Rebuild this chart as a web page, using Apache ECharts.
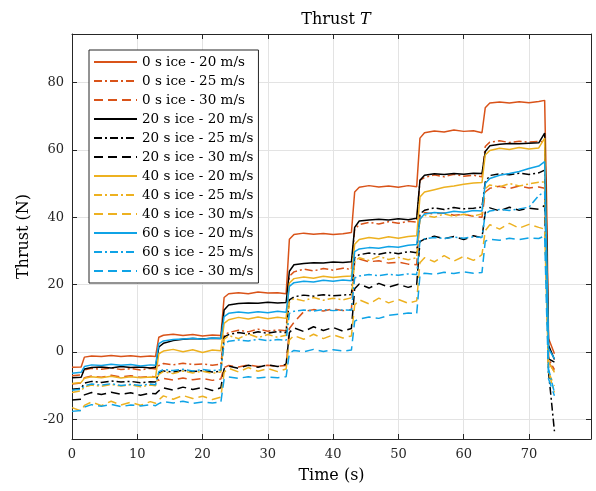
<!DOCTYPE html>
<html><head><meta charset="utf-8">
<script src="https://cdn.jsdelivr.net/npm/echarts@6/dist/echarts.min.js"></script>
<style>html,body{margin:0;padding:0;background:#fff}#c{width:596px;height:491px}</style>
</head><body><div id="c"></div>
<script>
const time = [0, 1.4, 1.9, 3, 4.5, 6, 7.5, 9, 10.5, 12, 12.8,
  13.3, 14, 15.5, 17, 18.5, 20, 21.5, 22.8,
  23.3, 24, 25.5, 27, 28.5, 30, 31.5, 32.8,
  33.3, 34, 35.5, 37, 38.5, 40, 41.5, 42.8,
  43.3, 44, 45.5, 47, 48.5, 50, 51.5, 52.8,
  53.3, 54, 55.5, 57, 58.5, 60, 61.5, 62.8,
  63.3, 64, 65.5, 67, 68.5, 70, 71.5,
  72.4, 72.7, 73.0, 73.9];

const seriesNames = ['0 s ice - 20 m/s','0 s ice - 25 m/s','0 s ice - 30 m/s',
  '20 s ice - 20 m/s','20 s ice - 25 m/s','20 s ice - 30 m/s',
  '40 s ice - 20 m/s','40 s ice - 25 m/s','40 s ice - 30 m/s',
  '60 s ice - 20 m/s','60 s ice - 25 m/s','60 s ice - 30 m/s'];

const ice0_20 = [-4.5, -4.4,
 -1.5, -1.2, -1.3, -1.0, -1.3, -1.1, -1.4, -1.2, -1.3,
 4.4, 5.0, 5.3, 4.9, 5.2, 4.8, 5.1, 4.9,
 16.2, 17.3, 17.6, 17.3, 17.8, 17.5, 17.6, 17.3,
 33.5, 34.9, 35.3, 35.0, 35.2, 34.9, 35.1, 35.5,
 47.5, 48.9, 49.4, 49.0, 49.3, 48.9, 49.4, 49.1,
 63.5, 65.1, 65.6, 65.3, 65.9, 65.5, 65.7, 65.1,
 72.5, 73.9, 74.2, 73.9, 74.3, 74.0, 74.4,
 74.7, 45, 4, -0.5];
const ice0_25 = [-7.0, -6.8,
 -5.3, -4.8, -5.1, -4.7, -5.2, -4.9, -5.3, -4.8, -5.0,
 -4.0, -3.4, -3.8, -3.3, -3.7, -3.5, -3.9, -3.6,
 5.0, 5.8, 6.5, 6.0, 6.8, 6.2, 6.6, 6.3,
 22.5, 23.8, 24.6, 24.1, 24.8, 24.3, 24.9, 24.5,
 36.5, 37.8, 38.5, 38.0, 38.7, 38.2, 38.8, 38.6,
 51.0, 51.8, 52.6, 52.0, 52.8, 52.2, 52.5, 52.0,
 61.0, 62.3, 62.7, 62.2, 62.6, 62.3, 62.5,
 62.4, 30, -2, -5.2];
const ice0_30 = [-9.5, -9.2,
 -7.6, -7.1, -7.5, -6.9, -7.4, -7.0, -7.5, -7.2, -7.4,
 -8.4, -7.8, -8.3, -7.7, -8.2, -7.8, -8.4, -8.0,
 -4.6, -4.0, -4.4, -3.8, -4.3, -3.9, -4.2, -4.0,
 7.0, 8.8, 12.0, 12.6, 12.2, 12.8, 12.3, 12.6,
 27.0, 27.6, 26.8, 27.1, 26.4, 26.7, 26.1, 25.9,
 40.5, 41.4, 41.0, 41.3, 40.6, 40.9, 40.3, 40.0,
 47.5, 48.6, 49.2, 48.5, 49.3, 48.7, 49.0,
 48.6, 25, -3, -5.8];
const ice20_20 = [-7.6, -7.5,
 -5.0, -4.6, -4.4, -4.7, -4.3, -4.6, -4.4, -4.7, -4.5,
 1.5, 2.6, 3.4, 3.8, 4.0, 3.9, 4.1, 4.0,
 12.5, 14.0, 14.4, 14.6, 14.5, 14.8, 14.6, 14.7,
 24.0, 25.9, 26.3, 26.5, 26.4, 26.7, 26.6, 26.8,
 37.0, 38.9, 39.2, 39.4, 39.2, 39.6, 39.3, 39.7,
 51.0, 52.5, 52.9, 52.7, 53.0, 52.8, 53.1, 53.0,
 59.5, 61.2, 61.7, 61.9, 61.8, 62.0, 62.1,
 65.0, 35, 2, -2.2];
const ice20_25 = [-11.0, -10.8,
 -9.2, -8.7, -9.0, -8.6, -8.9, -8.7, -9.1, -8.8, -8.9,
 -6.2, -5.6, -5.9, -5.4, -5.8, -5.5, -5.9, -5.7,
 4.5, 5.2, 5.8, 5.4, 6.0, 5.6, 6.1, 5.7,
 15.5, 16.4, 16.9, 16.6, 17.0, 16.7, 16.9, 17.1,
 28.0, 28.9, 29.4, 29.0, 29.6, 29.2, 29.8, 29.5,
 41.0, 42.1, 42.8, 42.3, 42.9, 42.5, 42.7, 43.0,
 50.5, 52.4, 52.9, 52.6, 53.1, 52.7, 53.2,
 54.0, 28, -6, -23.5];
const ice20_30 = [-14.2, -14.0,
 -12.7, -12.0, -12.6, -11.9, -12.5, -12.1, -12.8, -12.2, -12.4,
 -11.5, -10.6, -11.3, -10.4, -11.1, -10.5, -11.4, -10.6,
 -5.0, -4.2, -4.8, -3.9, -4.5, -3.8, -4.3, -3.6,
 5.8, 7.2, 6.1, 7.5, 6.4, 7.3, 6.2, 7.0,
 18.8, 20.2, 19.0, 20.4, 19.3, 20.1, 19.2, 20.0,
 32.8, 33.5, 34.4, 33.6, 34.3, 33.4, 34.5, 33.9,
 41.5, 42.8, 41.9, 43.0, 42.1, 42.7, 42.4,
 43.5, 20, -2, -3.0];
const ice40_20 = [-9.3, -9.0,
 -7.8, -7.3, -7.6, -7.2, -7.7, -7.3, -7.6, -7.4, -7.5,
 -0.5, 0.3, 0.8, 0.1, 0.7, -0.1, 0.6, 0.4,
 8.5, 9.6, 10.3, 9.8, 10.4, 9.9, 10.3, 10.0,
 20.5, 21.8, 22.3, 21.9, 22.5, 22.1, 22.4, 22.6,
 32.0, 33.4, 34.0, 33.6, 34.2, 33.8, 34.3, 34.5,
 46.0, 47.5, 48.2, 48.9, 49.3, 49.8, 50.2, 50.3,
 58.5, 59.8, 60.5, 60.1, 60.7, 60.3, 60.6,
 63.5, 25, -3, -6.0];
const ice40_25 = [-12.0, -11.5,
 -10.4, -9.8, -10.2, -9.6, -10.1, -9.7, -10.3, -9.8, -10.0,
 -6.6, -5.8, -6.4, -5.6, -6.2, -5.7, -6.3, -5.9,
 3.8, 4.9, 4.0, 5.4, 4.3, 5.2, 4.4, 5.0,
 14.8, 15.9, 15.2, 16.2, 15.4, 16.0, 15.5, 16.1,
 26.8, 28.0, 27.2, 28.4, 27.5, 28.1, 27.4, 28.0,
 39.5, 40.6, 40.0, 41.0, 40.3, 40.9, 40.4, 41.0,
 48.5, 49.6, 49.0, 50.0, 49.3, 49.9, 50.4,
 50.5, 20, -6, -12.0];
const ice40_30 = [-16.5, -17.5,
 -15.8, -14.8, -15.9, -14.6, -15.7, -14.9, -15.8, -14.7, -15.2,
 -14.2, -13.0, -14.0, -12.9, -13.8, -13.1, -14.1, -13.4,
 -6.0, -4.8, -5.9, -4.6, -5.7, -4.9, -5.8, -5.0,
 3.6, 4.9, 3.8, 5.3, 4.0, 5.1, 4.2, 4.8,
 14.0, 15.5, 14.3, 16.0, 14.6, 15.6, 14.5, 15.2,
 26.5, 28.0, 26.8, 28.6, 27.0, 28.4, 27.2, 28.9,
 36.0, 37.8, 36.5, 38.2, 36.8, 37.9, 37.0,
 36.5, 15, -6, -10.0];
const ice60_20 = [-6.3, -6.0,
 -4.3, -3.8, -4.0, -3.6, -3.9, -3.7, -4.1, -3.8, -3.9,
 2.5, 3.3, 3.7, 3.9, 4.1, 3.8, 4.2, 4.0,
 10.5, 11.5, 11.9, 11.6, 12.0, 11.7, 12.1, 11.8,
 19.5, 20.6, 21.0, 20.8, 21.3, 21.0, 21.4, 21.2,
 29.8, 30.6, 31.0, 30.8, 31.3, 31.1, 31.7, 31.9,
 39.5, 41.0, 41.4, 41.2, 41.8, 41.5, 42.0, 41.9,
 50.0, 51.5, 52.5, 53.0, 53.6, 54.5, 55.2,
 56.5, 30, 1, -2.0];
const ice60_25 = [-11.3, -11.0,
 -10.0, -9.5, -9.8, -9.4, -9.9, -9.6, -9.9, -9.5, -9.7,
 -5.8, -5.2, -5.5, -5.1, -5.6, -5.2, -5.5, -5.3,
 2.5, 3.2, 3.6, 3.3, 3.8, 3.4, 3.7, 3.5,
 11.5, 12.1, 12.5, 12.2, 12.6, 12.3, 12.5, 12.4,
 22.0, 22.6, 23.0, 22.7, 23.1, 22.8, 23.2, 23.0,
 33.0, 33.6, 34.0, 33.7, 34.1, 33.8, 34.2, 34.0,
 41.0, 41.9, 42.3, 42.0, 42.5, 43.0, 46.5,
 47.5, 22, -5, -12.0];
const ice60_30 = [-17.6, -17.3,
 -16.3, -15.6, -16.1, -15.5, -16.2, -15.7, -16.0, -15.6, -15.9,
 -15.3, -14.7, -15.1, -14.6, -15.2, -14.8, -15.1, -14.9,
 -8.0, -7.4, -7.8, -7.3, -7.7, -7.4, -7.6, -7.3,
 -0.3, 0.5, 0.1, 0.8, 0.2, 0.7, 0.3, 0.6,
 9.2, 9.8, 10.4, 10.0, 10.9, 11.2, 11.6, 11.4,
 22.8, 23.4, 23.1, 23.7, 23.3, 23.8, 23.4, 23.6,
 32.9, 33.5, 33.2, 33.8, 33.4, 33.9, 33.7,
 34.5, 12, -8, -13.0];

const xTicks = [0, 10, 20, 30, 40, 50, 60, 70];
const yTicks = [-20, 0, 20, 40, 60, 80];

const allValues = [ice0_20, ice0_25, ice0_30, ice20_20, ice20_25, ice20_30,
  ice40_20, ice40_25, ice40_30, ice60_20, ice60_25, ice60_30];
const colors = ['#D95319','#000000','#EDB120','#0FA3E6'];
const dashes = ['solid', [8,3,2,3], [9,5]];
const FONT = "'DejaVu Serif','Liberation Serif',serif";
const AX = '#262626';

const series = allValues.map((vals, i) => ({
  name: seriesNames[i],
  type: 'line',
  data: time.map((t, k) => [t, vals[k]]),
  showSymbol: false, symbol: 'none',
  animation: false,
  lineStyle: { color: colors[Math.floor(i / 3)], width: 1.5, type: dashes[i % 3] },
  itemStyle: { color: colors[Math.floor(i / 3)] },
  xAxisIndex: 0, yAxisIndex: 0
}));

const XMIN = 0, XMAX = 79.5, YMIN = -25.8, YMAX = 94.4;
const baseX = {
  type: 'value', min: XMIN, max: XMAX,
  axisLine: { show: true, onZero: false, lineStyle: { color: AX, width: 1 } },
  axisTick: { show: true, inside: true, length: 5, customValues: xTicks, lineStyle: { color: AX } },
};
const baseY = {
  type: 'value', min: YMIN, max: YMAX,
  axisLine: { show: true, onZero: false, lineStyle: { color: AX, width: 1 } },
  axisTick: { show: true, inside: true, length: 5, customValues: yTicks, lineStyle: { color: AX } },
};

const chart = echarts.init(document.getElementById('c'), null, { renderer: 'canvas' });
chart.setOption({
  animation: false,
  backgroundColor: '#fff',
  title: {
    text: '{a|Thrust }{b|T}', left: 331, top: 7, textAlign: 'center',
    textStyle: { fontWeight: 'normal', rich: {
      a: { fontFamily: FONT, fontSize: 16, fontWeight: 'normal', color: '#000' },
      b: { fontFamily: FONT, fontSize: 16, fontWeight: 'normal', fontStyle: 'italic', color: '#000' }
    } }
  },
  grid: { left: 72, right: 5, top: 34, bottom: 52, containLabel: false },
  legend: {
    orient: 'vertical', left: 89, top: 50,
    itemWidth: 43, itemHeight: 14, itemGap: 5,
    padding: [5, 5, 5, 4],
    borderColor: AX, borderWidth: 1, backgroundColor: '#fff',
    itemStyle: { opacity: 0 },
    textStyle: { fontFamily: FONT, fontSize: 13.5, color: '#000' },
    data: seriesNames
  },
  xAxis: [
    Object.assign({}, baseX, {
      position: 'bottom',
      name: 'Time (s)', nameLocation: 'middle', nameGap: 29,
      nameTextStyle: { fontFamily: FONT, fontSize: 16, color: '#000' },
      axisLabel: { customValues: xTicks, fontFamily: FONT, fontSize: 13, color: AX, margin: 9 },
      splitLine: { show: true, lineStyle: { color: '#e3e3e3', width: 1 } }
    }),
    Object.assign({}, baseX, {
      position: 'top', axisLabel: { show: false }, splitLine: { show: false }
    })
  ],
  yAxis: [
    Object.assign({}, baseY, {
      position: 'left',
      name: 'Thrust (N)', nameLocation: 'middle', nameGap: 39,
      nameTextStyle: { fontFamily: FONT, fontSize: 16, color: '#000' },
      axisLabel: { customValues: yTicks, fontFamily: FONT, fontSize: 13, color: AX, margin: 8 },
      splitLine: { show: true, lineStyle: { color: '#e3e3e3', width: 1 } }
    }),
    Object.assign({}, baseY, {
      position: 'right', axisLabel: { show: false }, splitLine: { show: false }
    })
  ],
  series: series
});
</script></body></html>
